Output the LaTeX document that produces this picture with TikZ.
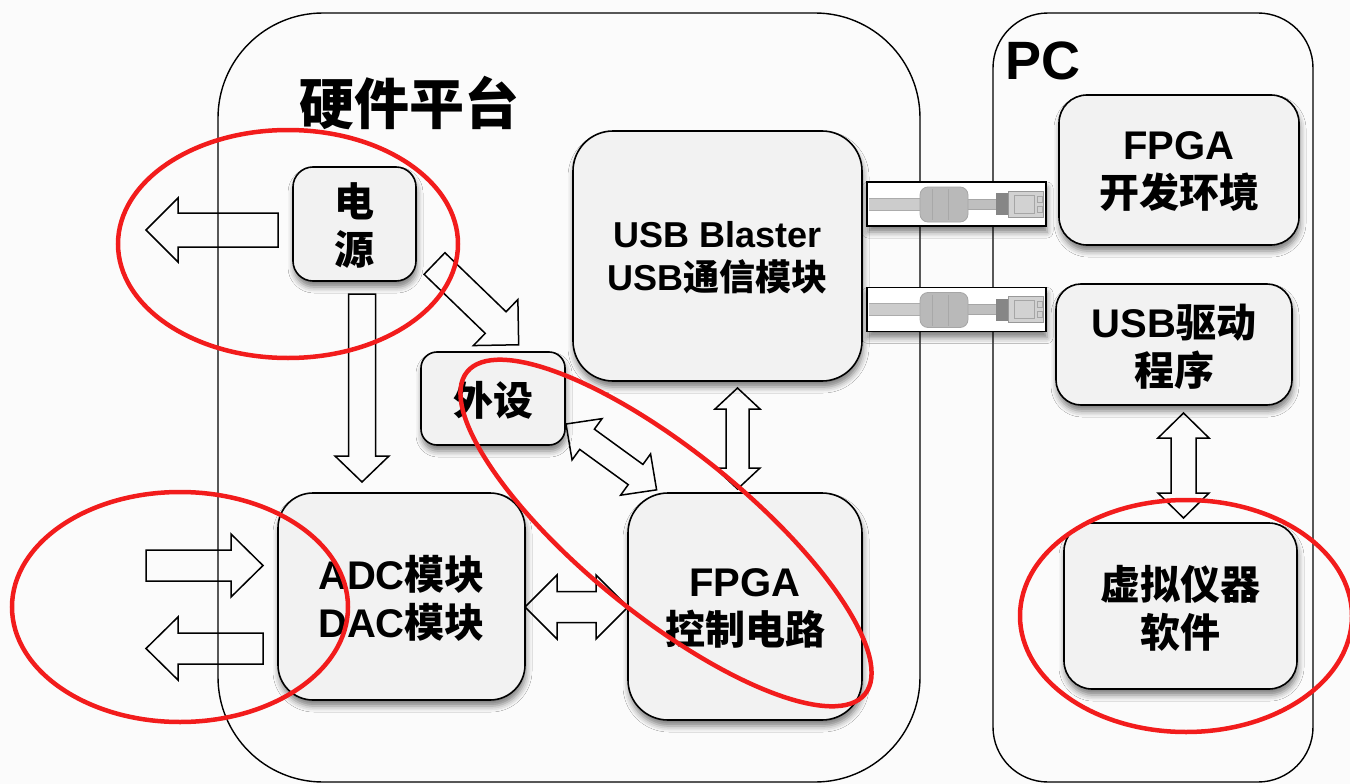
\documentclass[tikz,border=0pt]{standalone}
\usepackage{fontspec}
\setmainfont{Liberation Sans}
\newfontfamily\zhfont{Noto Sans CJK SC}
\newcommand\zh[1]{{\zhfont #1}}
\usetikzlibrary{shadows.blur}

\definecolor{boxgray}{HTML}{F2F2F2}
\definecolor{pagebg}{HTML}{FBFBFB}
\definecolor{ringred}{HTML}{F21C1C}

\tikzset{
  softshadow/.style={blur shadow={shadow xshift=1pt, shadow yshift=-6pt,
      shadow blur radius=6pt, shadow opacity=50}},
  box/.style={draw=black, line width=1.6pt, fill=boxgray, rounded corners=#1,
      softshadow, align=center, inner sep=0pt, text depth=0pt,
      font=\bfseries\fontsize{40}{48}\selectfont},
  frame/.style={draw=black, line width=1.4pt, rounded corners=#1, inner sep=0pt},
  title/.style={font=\bfseries\fontsize{#1}{#1}\selectfont, inner sep=0pt},
  arrowline/.style={draw=black, line width=1.5pt, line join=miter},
  ring/.style={draw=ringred, line width=4.5pt},
  cablebox/.style={draw=black, line width=1.6pt, fill=white, inner sep=0pt,
      minimum width=179pt, minimum height=44pt, softshadow},
}

% Hollow block arrows.
% \onearrow{tail x}{tail y}{angle}{length}{shaft width}{head width}{head length}
\newcommand\onearrow[7]{%
  \draw[arrowline, shift={(#1,#2)}, rotate=#3]
    (0,#5/2) -- (#4-#7,#5/2) -- (#4-#7,#6/2) -- (#4,0) -- (#4-#7,-#6/2)
    -- (#4-#7,-#5/2) -- (0,-#5/2) -- cycle;}
% \twoarrow{tip x}{tip y}{angle}{length}{shaft width}{head width}{head length}
\newcommand\twoarrow[7]{%
  \draw[arrowline, shift={(#1,#2)}, rotate=#3]
    (0,0) -- (#7,#6/2) -- (#7,#5/2) -- (#4-#7,#5/2) -- (#4-#7,#6/2) -- (#4,0)
    -- (#4-#7,-#6/2) -- (#4-#7,-#5/2) -- (#7,-#5/2) -- (#7,-#6/2) -- cycle;}

% USB cable picture centred vertically on #1
\newcommand\usbcable[1]{%
  \fill[gray!40] (869,#1-6) rectangle (921,#1+6);
  \draw[gray!65, line width=0.8pt] (869,#1-6) -- (921,#1-6) (869,#1+6) -- (921,#1+6);
  \fill[gray!50] (966,#1-5) rectangle (997,#1+5);
  \draw[gray!70, line width=0.8pt] (966,#1-5) -- (997,#1-5) (966,#1+5) -- (997,#1+5);
  \draw[gray!70, fill=gray!55, rounded corners=8pt, line width=0.8pt]
      (920,#1-17) rectangle (968,#1+18);
  \draw[gray!68, line width=0.8pt] (932,#1-15) -- (932,#1+16) (948,#1-15) -- (948,#1+16);
  \fill[gray!95!white] (996,#1-11) rectangle (1009,#1+11);
  \draw[gray!80, fill=gray!35, line width=0.8pt] (1008,#1-13) rectangle (1043,#1+13);
  \draw[gray!70, line width=0.8pt] (1014,#1-9) rectangle (1034,#1+9);
  \draw[gray!70, line width=0.8pt] (1037,#1-8) rectangle (1042,#1-2) (1037,#1+2) rectangle (1042,#1+8);
}

\begin{document}
\begin{tikzpicture}[x=1pt, y=-1pt]
  \useasboundingbox (0,0) rectangle (1350,784);
  \clip (0,0) rectangle (1350,784);
  \fill[pagebg] (0,0) rectangle (1350,784);

  % outer frames
  \node[frame=105pt, minimum width=702pt, minimum height=769pt] (hw) at (569,397.5) {};
  \node[frame=55pt, minimum width=320pt, minimum height=769pt] (pc) at (1153,397.5) {};
  \node[title=55] (hwtitle) at (409,103) {\zh{硬件平台}};
  \node[title=54] (pctitle) at (1043,61) {PC};

  % hardware blocks
  \node[box=20pt, minimum width=123pt, minimum height=114pt] (psu) at (354.5,224) {\zh{电}\\\zh{源}};
  \node[box=40pt, minimum width=289pt, minimum height=250pt, font=\bfseries\fontsize{36}{43}\selectfont] (usb) at (717.5,256) {USB Blaster\\USB\zh{通信模块}};
  \node[box=16pt, minimum width=144pt, minimum height=93pt] (periph) at (493,398.5) {\zh{外设}};
  \node[box=35pt, minimum width=247pt, minimum height=207pt] (adc) at (401.5,596.5) {ADC\zh{模块}\\DAC\zh{模块}};
  \node[box=40pt, minimum width=234pt, minimum height=227pt] (fpga) at (745,606.5) {FPGA\\\zh{控制电路}};

  % PC blocks
  \node[box=28pt, minimum width=240pt, minimum height=150pt] (ide) at (1179,170) {FPGA\\\zh{开发环境}};
  \node[box=25pt, minimum width=236pt, minimum height=121pt] (drv) at (1174,344.5) {USB\zh{驱动}\\\zh{程序}};
  \node[box=28pt, minimum width=233pt, minimum height=166pt] (vi) at (1180.5,606) {\zh{虚拟仪器}\\\zh{软件}};

  % power and signal arrows
  \onearrow{278}{230}{180}{132}{34}{64}{32}
  \onearrow{362}{294}{-90}{188}{27}{54}{26}
  \onearrow{434.5}{263.5}{-44}{117}{30}{64}{32}
  \onearrow{146}{565.5}{0}{117}{31}{63}{32}
  \onearrow{263}{648.5}{180}{117}{31}{63}{32}
  % two-way data arrows
  \twoarrow{525}{607}{0}{103}{31}{64}{32}
  \twoarrow{566}{424}{-36}{112}{25}{51}{26}
  \twoarrow{737.5}{388}{-90}{101}{23}{45}{21}
  \twoarrow{1183.5}{413}{-90}{105}{25}{51}{25}

  % USB cables
  \node[cablebox] (cable1) at (956.5,204) {};
  \usbcable{204}
  \node[cablebox] (cable2) at (956.5,309.5) {};
  \usbcable{309.5}

  % highlight rings
  \draw[ring] (288,244) ellipse [x radius=170, y radius=114];
  \draw[ring] (180,607) ellipse [x radius=168, y radius=115];
  \draw[ring, rotate around={-39:(666,533)}] (666,533) ellipse [x radius=256, y radius=82];
  \draw[ring] (1186,616) ellipse [x radius=166, y radius=116];
\end{tikzpicture}
\end{document}
